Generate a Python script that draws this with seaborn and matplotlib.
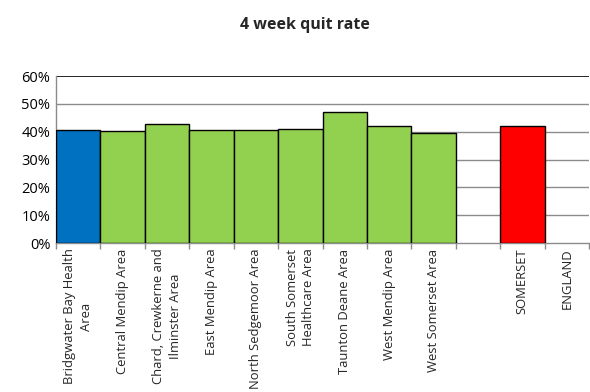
import matplotlib
matplotlib.use("Agg")
import matplotlib.pyplot as plt
import numpy as np
import pandas as pd
import seaborn as sns
from matplotlib.ticker import PercentFormatter, FixedLocator

areas = [
    "Bridgwater Bay Health\nArea",
    "Central Mendip Area",
    "Chard, Crewkerne and\nIlminster Area",
    "East Mendip Area",
    "North Sedgemoor Area",
    "South Somerset\nHealthcare Area",
    "Taunton Deane Area",
    "West Mendip Area",
    "West Somerset Area",
    " ",
    "SOMERSET",
    "ENGLAND",
]
quit_rate = [0.406, 0.403, 0.428, 0.405, 0.405, 0.408, 0.472, 0.422, 0.396,
             np.nan, 0.420, np.nan]
bar_colors = ["#0070C0"] + ["#92D050"] * 8 + ["#FFFFFF", "#FF0000", "#FFFFFF"]

df = pd.DataFrame({"area": areas, "rate": quit_rate})

sns.set_theme(style="white")
plt.rcParams["font.family"] = ["Open Sans", "DejaVu Sans"]

fig = plt.figure(figsize=(5.9, 3.92), dpi=100)
ax = fig.add_axes([56 / 590, 1 - 243 / 392, 533 / 590, (243 - 76) / 392])

sns.barplot(data=df, x="area", y="rate", hue="area", order=areas, hue_order=areas,
            palette=dict(zip(areas, bar_colors)), saturation=1, legend=False,
            width=1.0, edgecolor="black", linewidth=1.0, ax=ax, zorder=3)

ax.set_xlim(-0.5, len(areas) - 0.5)
ax.set_ylim(0, 0.6)
ax.set_yticks(np.arange(0, 0.61, 0.1))
ax.yaxis.set_major_formatter(PercentFormatter(1.0, decimals=0))
ax.tick_params(axis="y", labelsize=10.5, length=0, pad=4, colors="black")

for y in np.arange(0.1, 0.51, 0.1):
    ax.axhline(y, color="#8C8C8C", lw=1.0, zorder=1)
ax.axhline(0.6, color="black", lw=1.2, zorder=1)

ax.set_xticks(range(len(areas)))
ax.set_xticklabels(areas, rotation=90, ha="center", va="top",
                   multialignment="center", fontsize=9.4, linespacing=1.35)
ax.tick_params(axis="x", which="major", length=0, pad=4)
ax.xaxis.set_minor_locator(FixedLocator(np.arange(-0.5, len(areas), 1.0)))
ax.tick_params(axis="x", which="minor", length=4, color="#8C8C8C", width=1.0,
               bottom=True)

for side in ["top", "right"]:
    ax.spines[side].set_visible(False)
for side in ["left", "bottom"]:
    ax.spines[side].set_color("#8C8C8C")
    ax.spines[side].set_linewidth(1.0)

ax.set_xlabel("")
ax.set_ylabel("")

fig.text(0.517, 1 - 25 / 392, "4 week quit rate", ha="center", va="center",
         fontsize=11.5, fontweight="bold")

fig.savefig("out.png", dpi=100)
